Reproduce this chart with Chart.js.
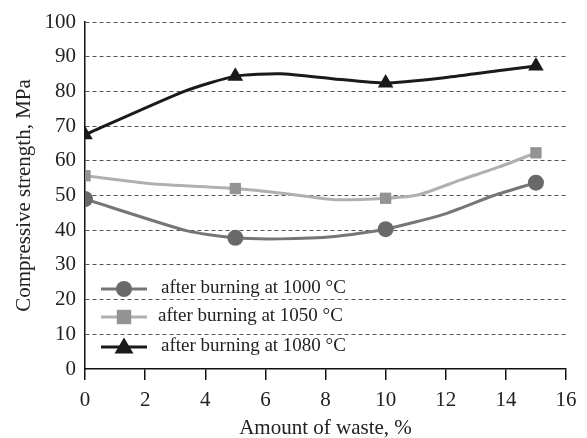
<!DOCTYPE html>
<html><head><meta charset="utf-8">
<script src="https://cdn.jsdelivr.net/npm/chart.js@4/dist/chart.umd.min.js"></script>
<style>html,body{margin:0;padding:0;background:#fff}#wrap{width:587px;height:438px}</style>
</head><body><div id="wrap"><canvas id="c"></canvas></div>
<script>
const seriesLabels = ['after burning at 1000 °C','after burning at 1050 °C','after burning at 1080 °C'];
const markerX = [0, 5, 10, 15];
const x1000 = [0, 3.4, 5, 6.5, 8.3, 10, 11.9, 13.6, 15];
const y1000 = [49, 39.8, 37.8, 37.5, 38.2, 40.3, 44.5, 50, 53.7];
const x1050 = [0, 2.2, 5, 6.7, 8.3, 10, 11.1, 12.5, 13.8, 15];
const y1050 = [55.7, 53.4, 52, 50.5, 48.8, 49.2, 50.2, 54.5, 58.3, 62.3];
const x1080 = [0, 3.3, 5, 6.5, 8.3, 10, 12, 13.8, 15];
const y1080 = [67.5, 80, 84.4, 85.1, 83.6, 82.4, 84, 86, 87.3];
const xTicks = [0,2,4,6,8,10,12,14,16];
const yTicks = [0,10,20,30,40,50,60,70,80,90,100];

const FONT = "'Liberation Serif', 'DejaVu Serif', serif";
function pts(xs, ys){ return xs.map((x,i)=>({x:x, y:ys[i]})); }

const styles = [
  {line:'#767676', fill:'#696969', style:'circle', r:8},
  {line:'#b0b0b0', fill:'#939393', style:'rect', r:8},
  {line:'#1a1a1a', fill:'#1a1a1a', style:'triangle', r:9}
];
function rad(r){ return ctx => (ctx.raw && markerX.includes(ctx.raw.x)) ? r : 0; }
const data = [pts(x1000,y1000), pts(x1050,y1050), pts(x1080,y1080)];

function marker(c, style, r, x, y){
  c.beginPath();
  if (style==='circle'){ c.arc(x,y,r,0,Math.PI*2); }
  else if (style==='rect'){ const h=r*0.9; c.rect(x-h,y-h,h*2,h*2); }
  else { c.moveTo(x,y-r*1.05); c.lineTo(x+r*1.05,y+r*0.72); c.lineTo(x-r*1.05,y+r*0.72); c.closePath(); }
  c.fill();
}

const legendPlugin = {
  id:'customLegend',
  afterDraw(chart){
    const c = chart.ctx;
    const rows = [289, 317, 347];
    chart.data.datasets.forEach((ds,i)=>{
      const y = rows[i];
      c.save();
      c.strokeStyle = ds.borderColor; c.lineWidth = 3;
      c.beginPath(); c.moveTo(101,y); c.lineTo(147,y); c.stroke();
      c.fillStyle = ds.pointBackgroundColor;
      marker(c, ds.pointStyle, styles[i].r, 124, y);
      c.fillStyle = '#222'; c.font = '19px ' + FONT; c.textBaseline='middle'; c.textAlign='left';
      c.fillText(ds.label, i===1 ? 158 : 161, y-1);
      c.restore();
    });
  }
};

new Chart(document.getElementById('c'), {
  type:'line',
  data:{ datasets: data.map((d,i)=>({
    label: seriesLabels[i], data:d,
    borderColor: styles[i].line, borderWidth: 3,
    pointStyle: styles[i].style, pointRadius: rad(styles[i].r), pointHoverRadius: rad(styles[i].r),
    pointBackgroundColor: styles[i].fill, pointBorderColor: styles[i].fill, pointBorderWidth: 0,
    tension: 0.2, fill:false
  }))},
  options:{
    responsive:true, maintainAspectRatio:false, animation:false,
    layout:{padding:{left:0, right:21, top:22, bottom:0}},
    plugins:{legend:{display:false}, tooltip:{enabled:false}},
    scales:{
      x:{ type:'linear', min:0, max:16,
        afterBuildTicks: s => { s.ticks = xTicks.map(v=>({value:v})); },
        afterFit: s => { s.height = 69; },
        ticks:{ color:'#222', font:{family:FONT, size:21}, padding:8, maxRotation:0 },
        grid:{ drawOnChartArea:false, drawTicks:true, tickLength:11, color:'#111', lineWidth:1.5 },
        border:{ display:true, color:'#111', width:1.5 },
        title:{ display:true, text:'Amount of waste, %', color:'#222', font:{family:FONT, size:21}, padding:{top:0,bottom:-3} }
      },
      y:{ type:'linear', min:0, max:100,
        afterBuildTicks: s => { s.ticks = yTicks.map(v=>({value:v})); },
        afterFit: s => { s.width = 85; },
        ticks:{ color:'#222', font:{family:FONT, size:21}, padding:9 },
        grid:{ drawTicks:false, color: ctx => ctx.tick && ctx.tick.value===0 ? 'rgba(0,0,0,0)' : '#555', lineWidth:1 },
        border:{ display:true, color:'#111', width:1.5, dash:[4,3] },
        title:{ display:true, text:'Compressive strength, MPa', color:'#222', font:{family:FONT, size:21}, padding:{top:12,bottom:0} }
      }
    }
  },
  plugins:[legendPlugin]
});
</script></body></html>
